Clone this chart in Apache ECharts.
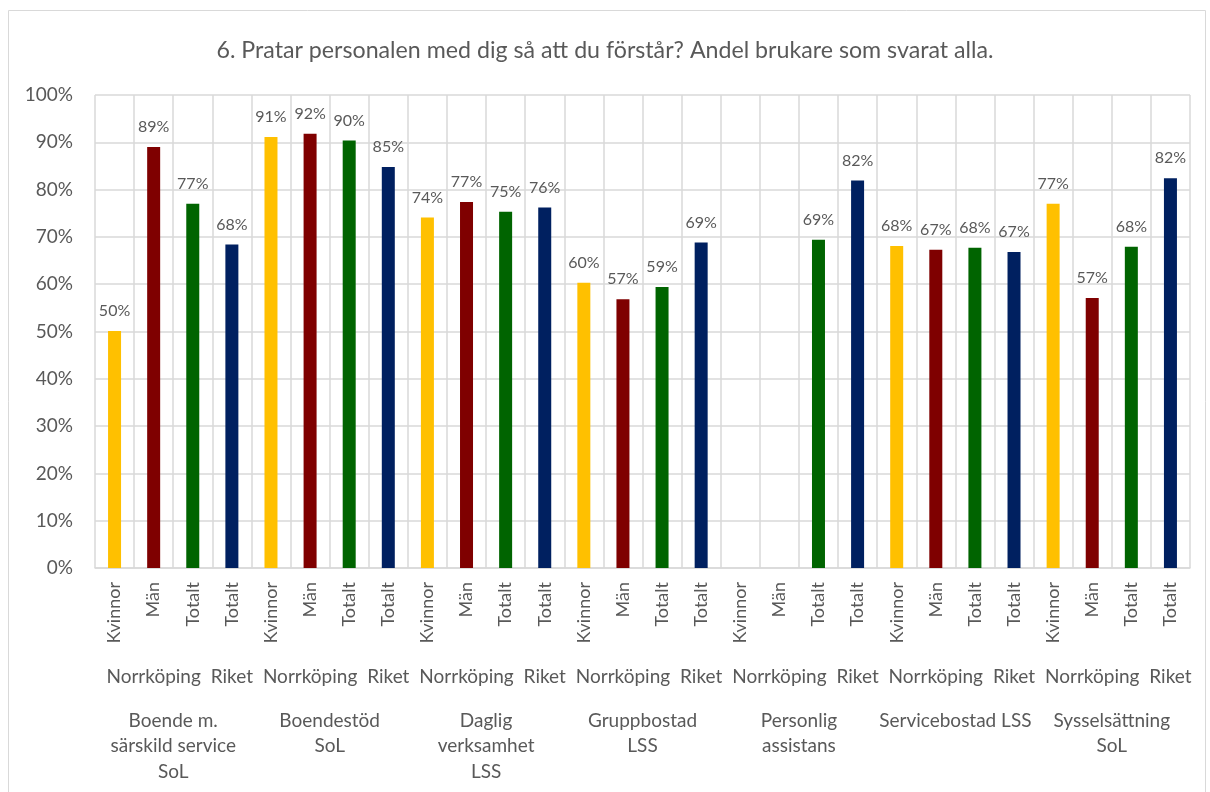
<!DOCTYPE html>
<html>
<head>
<meta charset="utf-8">
<script src="https://cdn.jsdelivr.net/npm/echarts@6/dist/echarts.min.js"></script>
<style>
  html, body { margin: 0; padding: 0; background: #fff; }
  #chart { width: 1210px; height: 792px; }
</style>
</head>
<body>
<div id="chart"></div>
<script>
// data
const groups = [
    'Boende m.\nsärskild service\nSoL',
    'Boendestöd\nSoL',
    'Daglig\nverksamhet\nLSS',
    'Gruppbostad\nLSS',
    'Personlig\nassistans',
    'Servicebostad LSS',
    'Sysselsättning\nSoL'
];
const subLabels = ['Kvinnor', 'Män', 'Totalt', 'Totalt'];
const regions = ['Norrköping', 'Riket'];
const values = [
    50.1, 89.0, 77.0, 68.4,
    91.1, 91.8, 90.4, 84.8,
    74.1, 77.4, 75.3, 76.2,
    60.3, 56.8, 59.4, 68.8,
    null, null, 69.4, 81.9,
    68.1, 67.3, 67.7, 66.8,
    77.0, 57.1, 67.9, 82.4
];
const barColors = ['#FFC000', '#7F0000', '#006400', '#002060'];

// kategorier för axlarna
const cats = [];
const regionCats = [];
groups.forEach(function(g) {
    subLabels.forEach(function(s, j) {
        cats.push(s);
        regionCats.push(j === 1 ? regions[0] : (j === 3 ? regions[1] : ''));
    });
});

const font = 'Lato, "Open Sans", sans-serif';
const txt = '#595959';
const gridCol = '#d9d9d9';

const chart = echarts.init(document.getElementById('chart'));
chart.setOption({
    animation: false,
    graphic: [{
        type: 'rect',
        shape: { x: 8.5, y: 10.5, width: 1197, height: 800 },
        style: { fill: 'none', stroke: gridCol, lineWidth: 1 }
    }],
    title: {
        text: '6. Pratar personalen med dig så att du förstår? Andel brukare som svarat alla.',
        left: 'center',
        top: 34,
        textStyle: { fontFamily: font, fontSize: 23.2, fontWeight: 'normal', color: txt }
    },
    grid: { left: 95, right: 20, top: 95, bottom: 224, outerBoundsMode: 'none' },
    yAxis: {
        type: 'value',
        min: 0,
        max: 100,
        interval: 10,
        axisLine: { show: false },
        axisTick: { show: false },
        axisLabel: { formatter: '{value}%', fontFamily: font, fontSize: 19, color: txt, margin: 22 },
        splitLine: { lineStyle: { color: gridCol, width: 1.5 } }
    },
    xAxis: [
        {
            type: 'category',
            position: 'bottom',
            data: cats,
            axisLine: { lineStyle: { color: gridCol, width: 1.5 } },
            axisTick: { length: 82, interval: 0, lineStyle: { color: gridCol, width: 1.5 } },
            splitLine: { show: true, interval: 0, lineStyle: { color: gridCol, width: 1.5 } },
            axisLabel: { interval: 0, rotate: 90, margin: 14, fontFamily: font, fontSize: 18, color: txt }
        },
        {
            type: 'category',
            position: 'bottom',
            data: regionCats,
            axisLine: { show: false },
            axisTick: {
                length: 124,
                interval: function(i) { return i % 4 === 3; },
                lineStyle: { color: gridCol, width: 1.5 }
            },
            axisLabel: { interval: 0, margin: 99, fontFamily: font, fontSize: 19, color: txt }
        },
        {
            type: 'category',
            position: 'bottom',
            data: groups,
            axisLine: { show: false },
            axisTick: { length: 220, interval: 0, lineStyle: { color: gridCol, width: 1.5 } },
            axisLabel: { interval: 0, margin: 140, fontFamily: font, fontSize: 19, color: txt, lineHeight: 25.5, align: 'center' }
        }
    ],
    series: [{
        type: 'bar',
        xAxisIndex: 0,
        data: values,
        barWidth: 13,
        itemStyle: {
            color: function(p) { return barColors[p.dataIndex % 4]; }
        },
        label: {
            show: true,
            position: 'top',
            distance: 12,
            fontFamily: font,
            fontSize: 16,
            color: txt,
            formatter: function(p) { return Math.round(p.value) + '%'; }
        }
    }]
});

window.addEventListener('resize', function() {
    chart.resize();
});
</script>
</body>
</html>
